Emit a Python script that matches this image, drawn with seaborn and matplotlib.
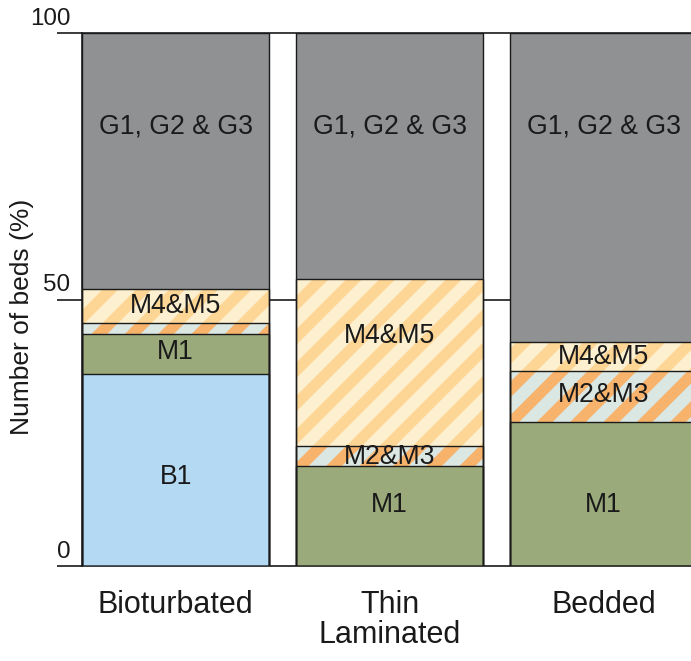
import matplotlib
matplotlib.use("Agg")
import matplotlib.pyplot as plt
import numpy as np
import pandas as pd
import seaborn as sns

# stacked percentages per bed type, bottom layer first
CATEGORIES = ["Bioturbated", "Thin\nLaminated", "Bedded"]
LAYERS = ["B1", "M1", "M2&M3", "M4&M5", "G1, G2 & G3"]
B1 = [36.0, 0.0, 0.0]
M1 = [7.5, 18.8, 27.0]
M2_M3 = [2.1, 3.8, 9.6]
M4_M5 = [6.4, 31.2, 5.4]
G1_G3 = [48.0, 46.2, 58.0]
Y_TICKS = [0, 50, 100]

# where the segment names sit (None = no label)
LABEL_Y = [
    [16.7, None, None],
    [40.1, 11.4, 11.4],
    [None, 20.5, 32.0],
    [48.8, 43.2, 39.2],
    [82.5, 82.5, 82.5],
]

# face colour, hatch colour (None = plain)
STYLES = [
    ("#b4d9f3", None),
    ("#9aaa7b", None),
    ("#dbe7e2", "#f7b36c"),
    ("#fdf0d0", "#fdd595"),
    ("#8f9193", None),
]

sns.set_style("white")
plt.rcParams["font.family"] = ["Liberation Sans", "DejaVu Sans"]
plt.rcParams["hatch.linewidth"] = 4.0

DPI = 200
fig = plt.figure(figsize=(691 / DPI, 661 / DPI), dpi=DPI)
ax = fig.add_axes([82 / 691, 1 - 566 / 661, 1 - 82 / 691, (566 - 33) / 661])

tops = np.cumsum(np.array([B1, M1, M2_M3, M4_M5, G1_G3]), axis=0)
df = pd.DataFrame(tops.T, columns=LAYERS)
df["bed"] = CATEGORIES

for v in Y_TICKS:
    ax.axhline(v, color="#1a1a1a", lw=0.6, zorder=0.5, clip_on=False)

# tallest cumulative layer first, each lower one painted over it
for i in range(len(LAYERS) - 1, -1, -1):
    face, hcol = STYLES[i]
    kw = dict(color=face, linewidth=0)
    if hcol is not None:
        kw.update(hatch="//", edgecolor=hcol)
    sns.barplot(data=df, x="bed", y=LAYERS[i], order=CATEGORIES,
                saturation=1, width=0.875, errorbar=None, ax=ax, **kw)

# black outlines of every boundary
for i in range(len(LAYERS)):
    sns.barplot(data=df, x="bed", y=LAYERS[i], order=CATEGORIES,
                fill=False, color="#1a1a1a", linewidth=0.5,
                width=0.875, errorbar=None, ax=ax)

for i, name in enumerate(LAYERS):
    for j in range(len(CATEGORIES)):
        if LABEL_Y[i][j] is not None:
            ax.text(j, LABEL_Y[i][j], name, ha="center", va="center",
                    fontsize=9.6, color="#1a1a1a")

ax.set_xlim(-0.4375, -0.4375 + 609 / 214)
ax.set_ylim(0, 100)
ax.set_xlabel("")
ax.set_ylabel("Number of beds (%)", fontsize=9.5, color="#1a1a1a")
ax.yaxis.set_label_coords(-0.078, 0.467)

ax.set_yticks(Y_TICKS)
ax.tick_params(axis="y", left=True, length=9, width=0.6, labelleft=False,
               color="#1a1a1a")
for v in Y_TICKS:
    ax.text(-12 / 609, v + 0.6, str(v), transform=ax.get_yaxis_transform(),
            ha="right", va="bottom", fontsize=8.7, color="#1a1a1a")

ax.tick_params(axis="x", length=0, pad=8.5, labelsize=11, labelcolor="#1a1a1a")
for lbl in ax.get_xticklabels():
    lbl.set_linespacing(1.0)

for s in ["top", "right", "bottom"]:
    ax.spines[s].set_visible(False)
ax.spines["left"].set_color("#1a1a1a")
ax.spines["left"].set_linewidth(0.6)

fig.savefig("out.png", dpi=DPI, facecolor="white")
